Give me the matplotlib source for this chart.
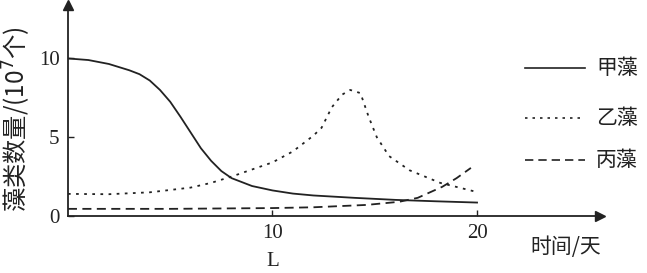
import numpy as np
import matplotlib
matplotlib.use("Agg")
import matplotlib.pyplot as plt

plt.rcParams['font.family'] = ['Liberation Serif', 'Noto Sans CJK SC']

# 甲藻 (solid)
jia_x = [0, 1, 2, 3, 3.5, 4, 4.5, 5, 5.5, 6, 6.5, 7, 7.5, 8, 9, 10, 11, 12, 14, 16, 18, 20]
jia_y = [10, 9.9, 9.65, 9.25, 9.0, 8.6, 8.0, 7.25, 6.3, 5.3, 4.3, 3.5, 2.85, 2.4, 1.9, 1.62, 1.42, 1.3, 1.15, 1.02, 0.93, 0.85]
# 乙藻 (dotted)
yi_x = [0, 2, 4, 6, 7, 8, 9, 10, 11, 11.5, 12, 12.4, 12.9, 13.4, 13.8, 14.3, 14.7, 15.1, 15.7, 16.7, 18.2, 19.9]
yi_y = [1.4, 1.38, 1.5, 1.8, 2.1, 2.5, 2.95, 3.4, 4.1, 4.6, 5.1, 5.6, 6.9, 7.7, 8.0, 7.8, 6.3, 5.0, 3.8, 2.9, 2.1, 1.55]
# 丙藻 (dashed)
bing_x = [0, 5, 10, 12, 14.6, 16.2, 17.1, 18.3, 19, 19.7]
bing_y = [0.45, 0.45, 0.5, 0.55, 0.7, 0.9, 1.15, 1.85, 2.4, 3.05]

legend_labels = ['甲藻', '乙藻', '丙藻']

fig = plt.figure(figsize=(6.47, 2.73), dpi=100)
ax = fig.add_axes([0.105, 0.209, 0.822, 0.773])

dot = (0, (1.5, 3))
dash = (0, (5, 3))
ax.plot(jia_x, jia_y, color='#222222', lw=1.3, ls='-')
ax.plot(yi_x, yi_y, color='#222222', lw=1.3, ls=dot)
ax.plot(bing_x, bing_y, color='#222222', lw=1.3, ls=dash)

ax.set_xlim(0, 26)
ax.set_ylim(0, 13.4)
for s in ['top', 'right']:
    ax.spines[s].set_visible(False)
for s in ['left', 'bottom']:
    ax.spines[s].set_linewidth(1.3)
    ax.spines[s].set_color('#222222')

ax.plot(1, 0, '>', color='#222222', ms=7, transform=ax.transAxes, clip_on=False)
ax.plot(0, 1, '^', color='#222222', ms=7, transform=ax.transAxes, clip_on=False)

ax.set_xticks([10, 20])
ax.set_yticks([0, 5, 10])
ax.tick_params(direction='in', length=4, width=1, labelsize=15, colors='#222222')
ax.tick_params(axis='y', pad=6)
ax.tick_params(axis='x', pad=6)

ax.text(0.936, -0.145, '时间/天', transform=ax.transAxes, fontsize=15,
        family=['Noto Sans CJK SC'], ha='center', va='center', color='#222222')
ax.text(10, -2.3, 'L', fontsize=15, ha='center', va='top', color='#222222')
fig.text(0.027, 0.565, '藻类数量/(10$^7$个)', rotation=90, fontsize=17.5,
         family=['Noto Sans CJK SC', 'DejaVu Sans'], ha='center', va='center', color='#222222')

styles = ['-', dot, dash]
ys = [68, 118, 160]
for lab, st, yp in zip(legend_labels, styles, ys):
    fy = 1 - yp / 273
    fig.add_artist(plt.Line2D([525 / 647, 585 / 647], [fy, fy], color='#222222', lw=1.2, ls=st))
    fig.text(596 / 647, fy, lab, fontsize=15, family=['Noto Sans CJK SC'], va='center', color='#222222')

fig.savefig('out.png', dpi=100)
